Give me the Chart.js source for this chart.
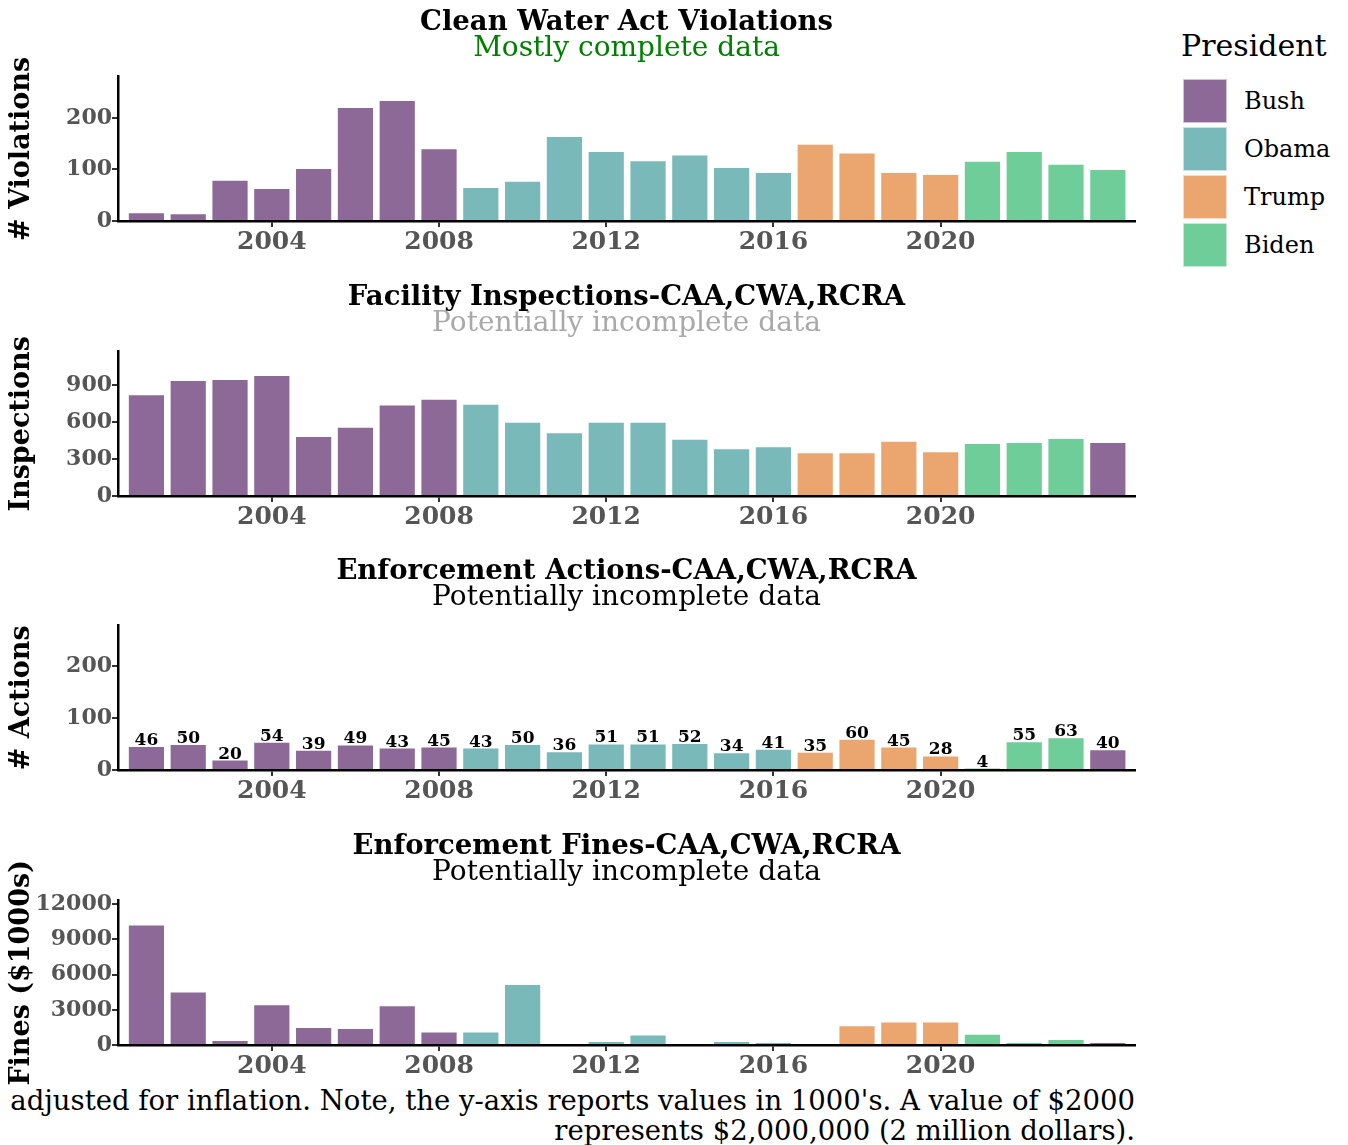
<!DOCTYPE html>
<html>
<head>
<meta charset="utf-8">
<script src="https://cdn.jsdelivr.net/npm/chart.js"></script>
<style>
  body { margin: 0; background: #fff; width: 1348px; height: 1145px; position: relative; overflow: hidden; font-family: "DejaVu Serif", serif; }
  canvas.panel { position: absolute; left: 0; }
  #legend { position: absolute; left: 1181px; top: 28px; }
  #legend .head { font-size: 30px; line-height: 36px; margin-bottom: 13px; }
  #legend .row { display: flex; align-items: center; height: 48px; }
  #legend .sw { width: 44px; height: 44px; box-sizing: border-box; border: 1px solid rgba(255,255,255,0.6); margin-left: 2px; }
  #legend .lab { font-size: 24px; margin-left: 17px; }
  .note { position: absolute; right: 213px; font-size: 27.5px; white-space: nowrap; }
</style>
</head>
<body>
<div id="legend"></div>
<div class="note" style="top:1084px">adjusted for inflation. Note, the y-axis reports values in 1000's. A value of $2000</div>
<div class="note" style="top:1114px">represents $2,000,000 (2 million dollars).</div>
<script>
const SERIF = '"DejaVu Serif", serif';

const years = [2001, 2002, 2003, 2004, 2005, 2006, 2007, 2008, 2009, 2010, 2011, 2012,
               2013, 2014, 2015, 2016, 2017, 2018, 2019, 2020, 2021, 2022, 2023, 2024];
const xTicks = [2004, 2008, 2012, 2016, 2020];

// president shown for each bar (2024 is green in the first panel, purple elsewhere)
const presViolations = ['Bush','Bush','Bush','Bush','Bush','Bush','Bush','Bush',
  'Obama','Obama','Obama','Obama','Obama','Obama','Obama','Obama',
  'Trump','Trump','Trump','Trump','Biden','Biden','Biden','Biden'];
const presOther = ['Bush','Bush','Bush','Bush','Bush','Bush','Bush','Bush',
  'Obama','Obama','Obama','Obama','Obama','Obama','Obama','Obama',
  'Trump','Trump','Trump','Trump','Biden','Biden','Biden','Bush'];

const violations = [17, 15, 80, 64, 103, 221, 235, 141, 66, 78, 165, 136,
                    118, 129, 105, 95, 150, 133, 95, 91, 117, 136, 111, 101];
const inspections = [826, 942, 950, 983, 488, 562, 744, 790, 749, 603, 518, 603,
                     603, 465, 388, 405, 355, 355, 448, 364, 430, 438, 471, 438];
const actions = [46, 50, 20, 54, 39, 49, 43, 45, 43, 50, 36, 51,
                 51, 52, 34, 41, 35, 60, 45, 28, 4, 55, 63, 40];
const fines = [10275, 4560, 430, 3475, 1525, 1440, 3390, 1150, 1150, 5200, 0, 340,
               900, 0, 340, 250, 0, 1680, 2000, 2000, 960, 250, 520, 250];

const presColors = { Bush: '#8c6996', Obama: '#79b9b9', Trump: '#eba670', Biden: '#6ecd99' };
const legendNames = ['Bush', 'Obama', 'Trump', 'Biden'];

// legend
const legend = document.getElementById('legend');
legend.innerHTML = '<div class="head">President</div>' + legendNames.map(n =>
  `<div class="row"><div class="sw" style="background:${presColors[n]}"></div><div class="lab">${n}</div></div>`).join('');

const valueLabels = {
  id: 'valueLabels',
  afterDatasetsDraw(chart, args, opts) {
    if (!opts.show) return;
    const ctx = chart.ctx;
    const meta = chart.getDatasetMeta(0);
    ctx.save();
    ctx.font = 'bold 17px ' + SERIF;
    ctx.fillStyle = '#000';
    ctx.textAlign = 'center';
    ctx.textBaseline = 'alphabetic';
    meta.data.forEach((el, i) => {
      ctx.fillText(String(chart.data.datasets[0].data[i].y), el.x, el.y - 1);
    });
    ctx.restore();
  }
};

function makePanel(top, cfg) {
  const c = document.createElement('canvas');
  c.className = 'panel';
  c.width = 1140;
  c.height = 275;
  c.style.top = top + 'px';
  document.body.appendChild(c);
  new Chart(c.getContext('2d'), {
    type: 'bar',
    data: {
      datasets: [{
        data: years.map((y, i) => ({ x: y, y: cfg.values[i] })),
        backgroundColor: cfg.pres.map(p => presColors[p]),
        borderColor: 'rgba(255,255,255,0.45)',
        borderWidth: 1,
        barPercentage: 0.89,
        categoryPercentage: 1
      }]
    },
    plugins: [valueLabels],
    options: {
      responsive: false,
      animation: false,
      layout: { padding: { left: 0, right: 5, top: 0, bottom: 18 } },
      plugins: {
        legend: { display: false },
        tooltip: { enabled: false },
        valueLabels: { show: !!cfg.labels },
        title: {
          display: true, text: cfg.title, fullSize: false, color: '#000',
          font: { family: SERIF, size: 27.5, weight: 'bold', lineHeight: 1 },
          padding: { top: 9, bottom: 0 }
        },
        subtitle: {
          display: true, text: cfg.subtitle, fullSize: false, color: cfg.subColor,
          font: { family: SERIF, size: 28, weight: 'normal', lineHeight: 0.9 },
          padding: { top: 0, bottom: 15 }
        }
      },
      scales: {
        x: {
          type: 'linear', min: 2000.32, max: 2024.65, offset: false,
          grid: { offset: false, drawOnChartArea: false, drawTicks: true, tickLength: 6, color: '#333', lineWidth: 2 },
          border: { display: true, color: '#000', width: 2.5 },
          ticks: { font: { family: SERIF, size: 25, weight: 'bold' }, color: '#555', padding: 0, maxRotation: 0,
                   callback: v => String(v) },
          afterBuildTicks: s => { s.ticks = xTicks.map(v => ({ value: v })); }
        },
        y: {
          min: 0, max: cfg.max,
          grid: { drawOnChartArea: false, drawTicks: true, tickLength: 6, color: '#333', lineWidth: 2 },
          border: { display: true, color: '#000', width: 2.5 },
          ticks: { font: { family: SERIF, size: 22, weight: 'bold' }, color: '#555', padding: 0,
                   callback: v => String(v) },
          afterBuildTicks: s => { s.ticks = cfg.yTicks.map(v => ({ value: v })); },
          afterFit: s => { s.width = 118; },
          title: {
            display: true, text: cfg.yTitle, color: '#000',
            font: { family: SERIF, size: 27, weight: 'bold', lineHeight: 1.2 },
            padding: { top: 6, bottom: 0 }
          }
        }
      }
    }
  });
}

makePanel(0, {
  title: 'Clean Water Act Violations', subtitle: 'Mostly complete data', subColor: '#008000',
  values: violations, pres: presViolations, max: 280, yTicks: [0, 100, 200], yTitle: '# Violations'
});
makePanel(275, {
  title: 'Facility Inspections-CAA,CWA,RCRA', subtitle: 'Potentially incomplete data', subColor: '#a9a9a9',
  values: inspections, pres: presOther, max: 1172, yTicks: [0, 300, 600, 900], yTitle: 'Inspections'
});
makePanel(549, {
  title: 'Enforcement Actions-CAA,CWA,RCRA', subtitle: 'Potentially incomplete data', subColor: '#000',
  values: actions, pres: presOther, max: 277, yTicks: [0, 100, 200], yTitle: '# Actions', labels: true
});
makePanel(824, {
  title: 'Enforcement Fines-CAA,CWA,RCRA', subtitle: 'Potentially incomplete data', subColor: '#000',
  values: fines, pres: presOther, max: 12300, yTicks: [0, 3000, 6000, 9000, 12000], yTitle: 'Fines ($1000s)'
});
</script>
</body>
</html>
